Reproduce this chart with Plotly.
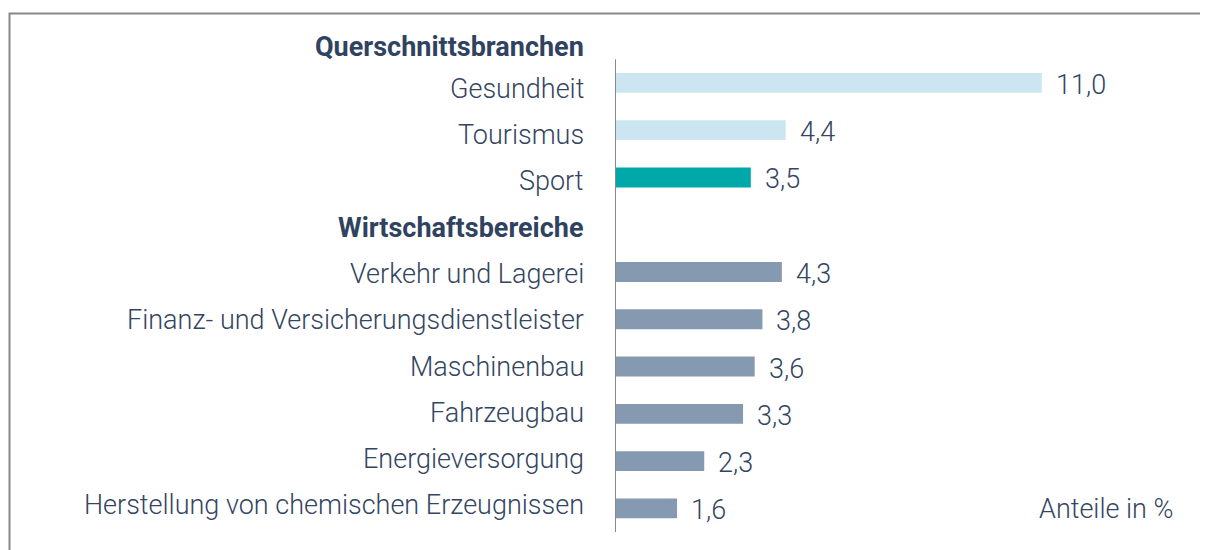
import plotly.graph_objects as go

categories = [
    "Querschnittsbranchen", "Gesundheit", "Tourismus", "Sport",
    "Wirtschaftsbereiche", "Verkehr und Lagerei",
    "Finanz- und Versicherungsdienstleister", "Maschinenbau",
    "Fahrzeugbau", "Energieversorgung",
    "Herstellung von chemischen Erzeugnissen",
]
values = [None, 11.0, 4.4, 3.5, None, 4.3, 3.8, 3.6, 3.3, 2.3, 1.6]
is_header = [True, False, False, False, True, False, False, False, False, False, False]
bar_colors = ["#ffffff", "#cce6f1", "#cce6f1", "#00a8aa", "#ffffff",
              "#8599b1", "#8599b1", "#8599b1", "#8599b1", "#8599b1", "#8599b1"]
unit_label = "Anteile in %"

# page has an 8px body margin, so the figure is 1200x542
W, H = 1200, 542
ML, MR, MT, MB = 607, 30, 4, 18
FONT = "Roboto"
FS = 27
TXT = "#33455f"

ypos = list(range(len(categories)))

fig = go.Figure()
fig.add_trace(go.Bar(
    x=[v if v is not None else 0 for v in values],
    y=ypos,
    orientation="h",
    marker=dict(color=bar_colors, line=dict(width=0)),
    width=0.42,
    hoverinfo="skip",
))

annotations = []
for i, (cat, v, hd) in enumerate(zip(categories, values, is_header)):
    annotations.append(dict(
        x=0, y=i, xref="x", yref="y",
        text=f"<b>{cat}</b>" if hd else cat,
        xanchor="right", yanchor="middle", showarrow=False,
        xshift=-29, yshift=(-11 if i == 0 else -6 + 1.0 * (i - 1)),
        font=dict(family=FONT, size=FS, color="#2f4360" if hd else TXT,
                  weight=700 if hd else 300),
    ))
    if v is not None:
        annotations.append(dict(
            x=v, y=i, xref="x", yref="y",
            text=f"{v:.1f}".replace(".", ","),
            xanchor="left", yanchor="middle", showarrow=False,
            xshift=12, yshift=-2,
            font=dict(family=FONT, size=FS, color=TXT, weight=300),
        ))

annotations.append(dict(
    x=1, y=len(categories) - 1, xref="paper", yref="y",
    text=unit_label, xanchor="right", yanchor="middle", showarrow=False,
    xshift=-2, yshift=-1,
    font=dict(family=FONT, size=FS, color=TXT, weight=300),
))

pw = W - ML - MR
ph = H - MT - MB
def px_x(p):
    return (p - ML) / pw
def px_y(p):
    return 1 - (p - MT) / ph

shapes = [
    # outer frame
    dict(type="rect", xref="paper", yref="paper",
         x0=px_x(1.5), x1=px_x(1230), y0=px_y(5.5), y1=px_y(600),
         line=dict(color="#888888", width=2), fillcolor="rgba(0,0,0,0)", layer="below"),
    # vertical axis line
    dict(type="line", xref="x", yref="y", x0=0, x1=0, y0=0.5, y1=len(categories) - 0.5,
         line=dict(color="#888888", width=2)),
]

fig.update_layout(
    width=W, height=H,
    margin=dict(l=ML, r=MR, t=MT, b=MB),
    paper_bgcolor="white", plot_bgcolor="white",
    showlegend=False,
    xaxis=dict(range=[0, pw / 38.8], visible=False, fixedrange=True),
    yaxis=dict(range=[len(categories) - 0.5, -0.5], visible=False, fixedrange=True),
    annotations=annotations,
    shapes=shapes,
)

fig.write_html("out.html")
